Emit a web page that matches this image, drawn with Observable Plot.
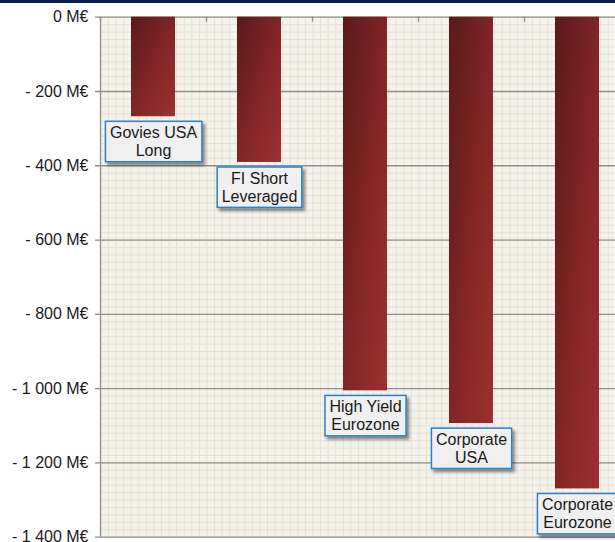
<!DOCTYPE html>
<html><head><meta charset="utf-8">
<script src="https://cdn.jsdelivr.net/npm/d3@7"></script>
<script src="https://cdn.jsdelivr.net/npm/@observablehq/plot@0.6"></script>
<style>
html,body{margin:0;padding:0;background:#fff;overflow:hidden;}
#wrap{position:relative;width:615px;height:542px;overflow:hidden;}
#chart svg{max-width:none !important;width:630px !important;height:542px !important;display:block;}
#band{position:absolute;left:0;top:0;width:615px;height:2.5px;background:#0c1f47;}
</style></head><body><div id="wrap"><div id="chart"></div><div id="band"></div></div>
<script>
const categories = ["Govies USA Long", "FI Short Leveraged", "High Yield Eurozone", "Corporate USA", "Corporate Eurozone"];
const labels = ["Govies USA\nLong", "FI Short\nLeveraged", "High Yield\nEurozone", "Corporate\nUSA", "Corporate\nEurozone"];
const values = [-268, -391, -1006, -1094, -1270];
const yTicks = d3.range(-1400, 1, 200);
const yMinor = d3.range(-1400, 1, 20);

const data = categories.map((c, i) => ({category: c, label: labels[i], value: values[i]}));
const fmt = d => d === 0 ? "0 M€" : "- " + d3.format(",")(-d).replace(/,/g, " ") + " M€";

const chart = Plot.plot({
  width: 630, height: 542,
  marginTop: 16.7, marginBottom: 5.3, marginLeft: 100, marginRight: 0,
  style: {fontFamily: "'Liberation Sans', Arial, sans-serif", fontSize: "16px", color: "#1a1a1a", background: "transparent", overflow: "visible"},
  x: {domain: categories, paddingInner: 0.585, paddingOuter: 0.2925, axis: null, label: null},
  y: {domain: [-1400, 0], axis: null, label: null},
  marks: [
    Plot.frame({fill: "#f4f2ea", stroke: null}),
    Plot.frame({fill: "url(#vminor)", stroke: null}),
    Plot.ruleY(yMinor, {stroke: "#e5e2d7", strokeWidth: 1}),
    Plot.ruleY(yTicks, {stroke: "#8f8f8f", strokeWidth: 1.3, insetLeft: -5}),
    Plot.ruleX(data.slice(0, 1), {x: "category", dx: -53, stroke: "#8f8f8f", strokeWidth: 1.3}),
    Plot.ruleX(data, {x: "category", y1: 0, y2: -13.5, dx: -53, stroke: "#8f8f8f", strokeWidth: 1.3}),
    Plot.barY(data, {x: "category", y: "value", fill: "url(#barGrad)"}),
    Plot.text(data, {x: "category", y: "value", text: "label", lineAnchor: "top", dy: 8, lineHeight: 1.15, fontSize: 16, fill: "#1a1a1a"}),
    Plot.axisY({ticks: yTicks, tickSize: 0, tickPadding: 12, tickFormat: fmt, fontSize: 16, fill: "#1a1a1a", label: null})
  ]
});
document.getElementById("chart").appendChild(chart);

const svg = d3.select(chart);
const defs = svg.insert("defs", ":first-child");
const grad = defs.append("linearGradient").attr("id", "barGrad")
  .attr("x1", 0).attr("y1", 0).attr("x2", 1).attr("y2", 1);
grad.append("stop").attr("offset", 0).attr("stop-color", "#5a1919");
grad.append("stop").attr("offset", 0.5).attr("stop-color", "#802525");
grad.append("stop").attr("offset", 1).attr("stop-color", "#9c3131");
const pat = defs.append("pattern").attr("id", "vminor").attr("patternUnits", "userSpaceOnUse")
  .attr("x", 100).attr("y", 0).attr("width", 106 / 14).attr("height", 20);
pat.append("line").attr("x1", 0.5).attr("x2", 0.5).attr("y1", 0).attr("y2", 20)
  .attr("stroke", "#e5e2d7").attr("stroke-width", 1);
const filt = defs.append("filter").attr("id", "shadow").attr("x", "-20%").attr("y", "-20%").attr("width", "150%").attr("height", "160%");
filt.append("feDropShadow").attr("dx", 2.5).attr("dy", 3).attr("stdDeviation", 1.6)
  .attr("flood-color", "#000").attr("flood-opacity", 0.45);

// label boxes behind each label text
svg.selectAll("g[aria-label='text'] text").each(function () {
  const b = this.getBBox();
  const padX = 4.5, padY = 2.5;
  const r = document.createElementNS("http://www.w3.org/2000/svg", "rect");
  r.setAttribute("x", b.x - padX);
  r.setAttribute("y", b.y - padY);
  r.setAttribute("width", b.width + 2 * padX);
  r.setAttribute("height", b.height + 2 * padY);
  r.setAttribute("fill", "#f0f0f0");
  r.setAttribute("stroke", "#2a82c8");
  r.setAttribute("stroke-width", 1.5);
  r.setAttribute("filter", "url(#shadow)");
  const t = this.getAttribute("transform");
  if (t) r.setAttribute("transform", t);
  this.parentNode.insertBefore(r, this);
});
</script></body></html>
